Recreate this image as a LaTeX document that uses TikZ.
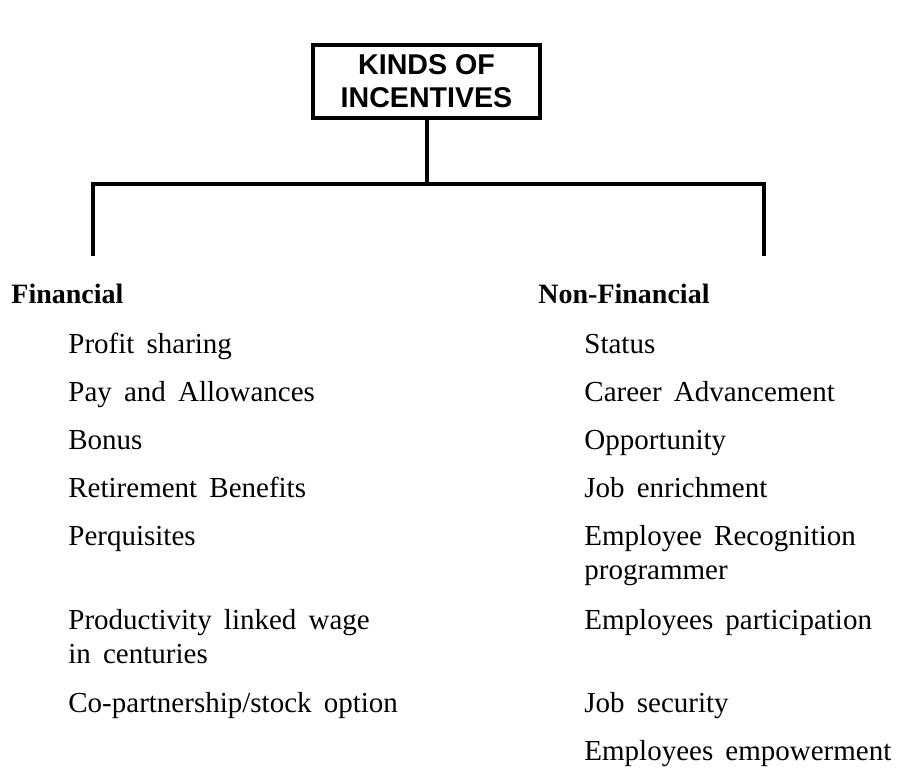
\documentclass[tikz,border=0pt]{standalone}
\usepackage{fontspec}
\setmainfont{Liberation Serif}
\newfontfamily\headfont{Liberation Sans}
\usetikzlibrary{calc}

\newcommand{\itemfont}{\fontsize{14.5}{17}\selectfont\spaceskip=0.42em\relax}
\newcommand{\incitem}[3]{%
  \node[incitem] (#1) at #2 {#3};
}
\tikzset{
  kindbox/.style={draw,line width=2pt,align=center,inner sep=0pt,
    minimum width=113.5pt,minimum height=36.5pt,
    font=\headfont\bfseries\fontsize{14.3}{16.5}\selectfont},
  grouphead/.style={anchor=base west,inner sep=0pt,
    font=\bfseries\fontsize{14}{17}\selectfont},
  incitem/.style={anchor=base west,inner sep=0pt,align=left,
    font=\itemfont},
  branch/.style={line width=2pt}
}

\begin{document}
\begin{tikzpicture}[x=0.5pt,y=-0.5pt]
      \path[use as bounding box] (0,0) rectangle (908,767);

      % Top box {{{
      \node[kindbox] (kinds) at (426.5,81.5) {KINDS OF\\INCENTIVES};
      \coordinate (barL) at (93,184);
      \coordinate (barR) at (764,184);
      \coordinate (finEnd) at (93,256);
      \coordinate (nonEnd) at (764,256);
      \draw[branch] (kinds.south) -- (kinds.south |- barL);
      \draw[branch] (finEnd) -- (barL) -- (barR) -- (nonEnd);
      % }}}

      % Financial {{{
      \node[grouphead] (fin) at (11,303) {Financial};
      \incitem{profit}{(68,353)}{Profit sharing}
      \incitem{pay}{(68,401)}{Pay and Allowances}
      \incitem{bonus}{(68,449)}{Bonus}
      \incitem{retire}{(68,497)}{Retirement Benefits}
      \incitem{perq}{(68,545)}{Perquisites}
      % two lines: placed by the last baseline
      \incitem{prod}{(68,663)}{Productivity linked wage\\in centuries}
      \incitem{copart}{(68,712)}{Co-partnership/stock option}
      % }}}

      % Non-Financial {{{
      \node[grouphead] (nonfin) at (538,303) {Non-Financial};
      \incitem{status}{(584,353)}{Status}
      \incitem{career}{(584,401)}{Career Advancement}
      \incitem{opport}{(584,449)}{Opportunity}
      \incitem{enrich}{(584,497)}{Job enrichment}
      \incitem{recog}{(584,579)}{Employee Recognition\\programmer}
      \incitem{partic}{(584,629)}{Employees participation}
      \incitem{secur}{(584,712)}{Job security}
      \incitem{empow}{(584,760)}{Employees empowerment}
      % }}}

\end{tikzpicture}
\end{document}
